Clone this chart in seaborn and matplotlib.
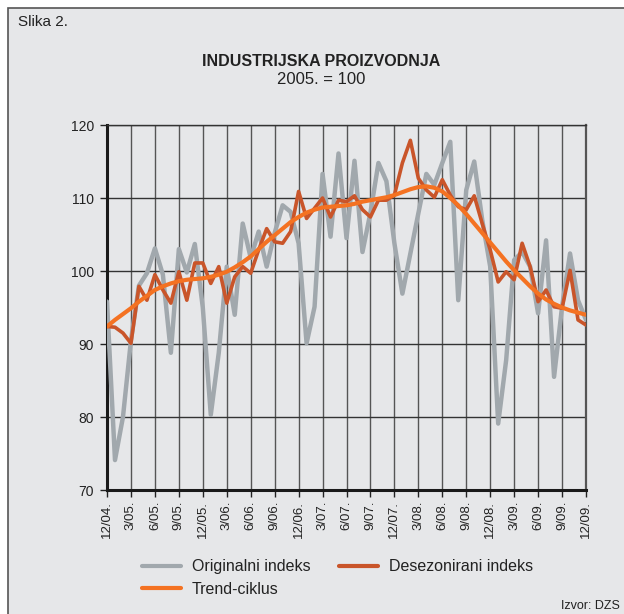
import numpy as np
import pandas as pd
import matplotlib
matplotlib.use('Agg')
import matplotlib.pyplot as plt
from matplotlib.patches import Rectangle
from matplotlib.lines import Line2D
import seaborn as sns

# monthly data, 12/2004 .. 12/2009 (61 months)
originalni = [95.8, 74.1, 80.0, 90.5, 98.0, 99.7, 103.1, 99.5, 88.8, 103.0,
              99.8, 103.7, 95.0, 80.3, 88.8, 100.6, 94.0, 106.5, 101.8, 105.4,
              100.6, 105.2, 109.0, 108.1, 103.8, 90.1, 95.1, 113.3, 104.7, 116.1,
              104.5, 115.1, 102.6, 108.0, 114.8, 112.3, 103.8, 96.9, 102.4, 107.9,
              113.3, 111.8, 114.8, 117.7, 96.0, 111.1, 115.0, 107.0, 100.6, 79.1,
              87.8, 101.5, 102.6, 100.6, 94.2, 104.2, 85.5, 95.1, 102.4, 96.0,
              93.3]
desezonirani = [92.4, 92.3, 91.5, 90.1, 97.9, 96.0, 99.5, 97.4, 95.6, 99.9,
                96.0, 101.1, 101.1, 98.3, 100.6, 95.6, 99.2, 100.6, 99.7, 102.9,
                105.8, 104.0, 103.8, 105.4, 110.9, 107.2, 108.6, 110.0, 107.4, 109.7,
                109.5, 110.3, 108.4, 107.4, 109.7, 109.7, 110.4, 114.8, 117.9, 112.7,
                111.1, 110.1, 112.5, 110.4, 108.8, 108.4, 110.3, 106.5, 102.9, 98.5,
                99.9, 98.8, 103.8, 100.6, 95.8, 97.4, 95.1, 94.9, 100.1, 93.3,
                92.6]
trend = [92.4, 93.3, 94.1, 94.9, 95.8, 96.6, 97.4, 97.9, 98.3, 98.6,
         98.8, 98.9, 99.0, 99.2, 99.5, 99.9, 100.5, 101.2, 102.0, 103.0,
         104.0, 104.9, 105.8, 106.7, 107.4, 108.0, 108.4, 108.7, 108.8, 108.9,
         109.0, 109.2, 109.5, 109.7, 109.9, 110.1, 110.4, 110.8, 111.2, 111.5,
         111.6, 111.4, 110.9, 110.0, 109.0, 107.8, 106.5, 105.2, 103.9, 102.6,
         101.3, 100.1, 99.0, 97.9, 96.9, 96.1, 95.5, 95.0, 94.6, 94.3,
         94.0]
tick_labels = ['12/04.', '3/05.', '6/05.', '9/05.', '12/05.', '3/06.', '6/06.',
               '9/06.', '12/06.', '3/07.', '6/07.', '9/07.', '12/07.', '3/08.',
               '6/08.', '9/08.', '12/08.', '3/09.', '6/09.', '9/09.', '12/09.']

df = pd.DataFrame({'mjesec': np.arange(len(originalni)),
                   'orig': originalni, 'desez': desezonirani, 'trend': trend})

sns.set_style('ticks')
plt.rcParams['font.family'] = ['Liberation Sans', 'DejaVu Sans']

bg = '#e6e7e9'
c_orig = '#a1a8ad'
c_desez = '#c9552a'
c_trend = '#f47222'

fig = plt.figure(figsize=(6.24, 6.14), dpi=100)
fig.patch.set_facecolor('white')
# light grey panel with a thin frame, like the publication box
fig.patches.append(Rectangle((8 / 624, -0.02), 1.0, 1 - 8 / 614 + 0.02,
                             transform=fig.transFigure, facecolor=bg,
                             edgecolor='#555555', lw=1.2, zorder=-10))

ax = fig.add_axes([107 / 624, 1 - 490 / 614, 479 / 624, 365 / 614])
ax.set_facecolor(bg)

sns.lineplot(data=df, x='mjesec', y='orig', ax=ax, color=c_orig, lw=3.2, zorder=3)
sns.lineplot(data=df, x='mjesec', y='desez', ax=ax, color=c_desez, lw=2.6, zorder=4)
sns.lineplot(data=df, x='mjesec', y='trend', ax=ax, color=c_trend, lw=3.0, zorder=5)

ax.set_xlim(0, len(originalni) - 1)
ax.set_ylim(70, 120)
ax.set_xticks(np.arange(0, len(originalni), 3))
ax.set_xticklabels(tick_labels, rotation=90, fontsize=9.5, color='#222222')
ax.set_yticks([70, 80, 90, 100, 110, 120])
ax.tick_params(axis='y', labelsize=10, length=5, width=1, color='#222222',
               labelcolor='#222222', pad=4.5)
ax.tick_params(axis='x', length=5, width=1, color='#222222', pad=3)
ax.set_xlabel('')
ax.set_ylabel('')

ax.grid(True, axis='x', color='#555555', lw=1.0, zorder=1)
ax.grid(True, axis='y', color='#333333', lw=1.0, zorder=1)
for side in ['left', 'bottom']:
    ax.spines[side].set_linewidth(2.2)
    ax.spines[side].set_color('#1a1a1a')
ax.spines['top'].set_linewidth(1.0)
ax.spines['top'].set_color('#333333')
ax.spines['right'].set_linewidth(1.6)
ax.spines['right'].set_color('#555555')

handles = [Line2D([], [], color=c_orig, lw=3.0),
           Line2D([], [], color=c_trend, lw=3.0),
           Line2D([], [], color=c_desez, lw=3.0)]
labels = ['Originalni indeks', 'Trend-ciklus', 'Desezonirani indeks']
fig.legend(handles, labels, ncol=2, loc='upper left',
           bbox_to_anchor=(128 / 624, 1 - 545 / 614), frameon=False,
           fontsize=11.5, handlelength=2.4, handletextpad=0.7,
           columnspacing=1.8, labelspacing=0.45, labelcolor='#222222')

fig.text(18 / 624, 1 - 22 / 614, 'Slika 2.', fontsize=11, color='#222222',
         va='center', ha='left')
fig.text(321 / 624, 1 - 62 / 614, 'INDUSTRIJSKA PROIZVODNJA', fontsize=11.5,
         fontweight='bold', color='#222222', ha='center', va='center')
fig.text(321 / 624, 1 - 79 / 614, '2005. = 100', fontsize=12,
         color='#222222', ha='center', va='center')
fig.text(620 / 624, 1 - 606 / 614, 'Izvor: DZS', fontsize=9,
         color='#222222', ha='right', va='center')

fig.savefig('out.png', dpi=100, facecolor=fig.get_facecolor())
